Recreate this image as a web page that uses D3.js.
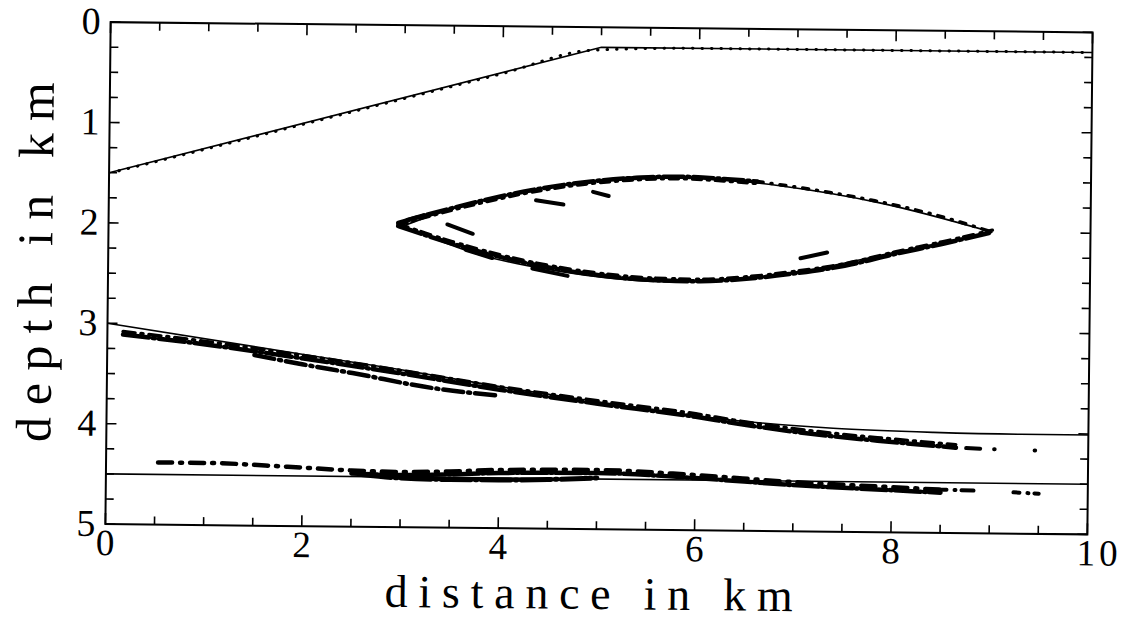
<!DOCTYPE html>
<html>
<head>
<meta charset="utf-8">
<script src="https://cdn.jsdelivr.net/npm/d3@7"></script>
<style>
  body { margin: 0; background: #fff; }
  svg { display: block; }
  text { font-family: "Liberation Serif", "DejaVu Serif", serif; fill: #000; }
</style>
</head>
<body>
<svg id="chart" width="1127" height="621"></svg>
<script>
'use strict';

// tick labels
const xLabels = [0, 2, 4, 6, 8, 10];
const yLabels = [0, 1, 2, 3, 4, 5];

// true model interfaces (distance km, depth km)
const iface1 = [[0, 1.5], [5, 0.2], [10, 0.2]];
const lensTop = [[3, 2.0], [3.44, 1.84], [4.0, 1.69], [4.8, 1.55], [5.5, 1.48], [6.2, 1.5], [6.83, 1.56], [7.85, 1.72], [9, 2.0]];
const lensBot = [[3, 2.0], [3.79, 2.28], [4.5, 2.42], [5.14, 2.5], [5.69, 2.53], [6.3, 2.5], [7.05, 2.41], [8.06, 2.2], [9, 2.0]];
const iface3 = [[0, 3.0], [2, 3.29], [2.98, 3.43], [4.0, 3.59], [5.0, 3.73], [6.38, 3.9], [7.4, 3.97], [8.42, 4.0], [9.31, 4.01], [10, 4.01]];
const iface4 = [[0, 4.5], [10, 4.5]];

// inverted reflector segments
const inv1 = [[0.1, 1.48], [1, 1.25], [2, 0.99], [3, 0.73], [4, 0.47], [4.9, 0.23], [6, 0.2], [7, 0.2], [8, 0.2], [9, 0.2], [9.9, 0.2]];
const invLensTop = [[2.95, 1.97], [3.3, 1.87], [3.8, 1.74], [4.3, 1.63], [4.8, 1.55], [5.3, 1.5], [5.8, 1.48], [6.3, 1.5], [6.6, 1.52]];
const invLensTopR = [[6.6, 1.52], [7.2, 1.6], [7.8, 1.7], [8.4, 1.83], [9, 2.0]];
const invLensBot = [[2.95, 2.0], [3.5, 2.17], [4, 2.3], [4.5, 2.4], [5, 2.47], [5.5, 2.51], [6, 2.52], [6.5, 2.49], [7, 2.43], [7.5, 2.35], [8, 2.23], [8.5, 2.12], [9, 2.0]];
const invLensBits = [
  [[3.45, 1.98], [3.71, 2.07]],
  [[3.64, 2.23], [3.91, 2.31]],
  [[4.32, 2.41], [4.68, 2.48]],
  [[4.35, 1.73], [4.63, 1.77]],
  [[4.93, 1.64], [5.09, 1.68]],
  [[3.04, 1.94], [3.21, 1.89]],
  [[7.05, 2.28], [7.32, 2.22]]
];
const inv3 = [[0.16, 3.11], [1, 3.2], [2, 3.33], [3, 3.47], [4, 3.62], [5, 3.75], [6, 3.87], [6.4, 3.93], [7.4, 4.05], [8.0, 4.1], [8.65, 4.15]];
const inv3Tail = [[8.65, 4.15], [9.0, 4.16], [9.52, 4.17]];
const inv3Low = [[1.5, 3.3], [2, 3.39], [2.5, 3.47], [3.31, 3.61], [4.0, 3.68]];
const inv4 = [[0.53, 4.38], [1, 4.38], [1.85, 4.41], [2.5, 4.44], [3, 4.45], [3.5, 4.44], [4, 4.42], [5, 4.41], [6, 4.45], [7, 4.51], [8, 4.55], [8.5, 4.57]];
const inv4Tail = [[8.5, 4.57], [9.0, 4.58], [9.5, 4.6]];
const inv4Low = [[2.6, 4.48], [3, 4.51], [3.5, 4.52], [4, 4.52], [4.5, 4.51], [5, 4.49]];

const svg = d3.select('#chart');
const pLeft = 108, pRight = 1090, pTop = 27.25, pBottom = 529.25;
const g = svg.append('g').attr('transform', 'rotate(0.6, 599, 278)');

const x = d3.scaleLinear().domain([0, 10]).range([pLeft, pRight]);
const y = d3.scaleLinear().domain([0, 5]).range([pTop, pBottom]);

const line = d3.line().x((d) => x(d[0])).y((d) => y(d[1]));
const smooth = d3.line().x((d) => x(d[0])).y((d) => y(d[1])).curve(d3.curveMonotoneX);

// frame
g.append('rect')
    .attr('x', pLeft).attr('y', pTop)
    .attr('width', pRight - pLeft).attr('height', pBottom - pTop)
    .attr('fill', 'none').attr('stroke', '#000').attr('stroke-width', 2);

// ticks (inward, all four sides)
const xt = d3.range(0, 10.01, 0.5);
const yt = d3.range(0, 5.01, 0.25);
xt.forEach(function (t) {
    const major = Math.abs(t / 2 - Math.round(t / 2)) < 1e-6;
    const len = major ? 11 : 8;
    g.append('line').attr('x1', x(t)).attr('x2', x(t)).attr('y1', pBottom).attr('y2', pBottom - len)
        .attr('stroke', '#000').attr('stroke-width', 1.6);
    g.append('line').attr('x1', x(t)).attr('x2', x(t)).attr('y1', pTop).attr('y2', pTop + len)
        .attr('stroke', '#000').attr('stroke-width', 1.6);
});
yt.forEach(function (t) {
    const major = Math.abs(t - Math.round(t)) < 1e-6;
    const len = major ? 10 : 8;
    g.append('line').attr('y1', y(t)).attr('y2', y(t)).attr('x1', pLeft).attr('x2', pLeft + len)
        .attr('stroke', '#000').attr('stroke-width', 1.6);
    g.append('line').attr('y1', y(t)).attr('y2', y(t)).attr('x1', pRight).attr('x2', pRight - len)
        .attr('stroke', '#000').attr('stroke-width', 1.6);
});

// tick labels
g.selectAll('text.xl').data(xLabels).enter().append('text')
    .attr('class', 'xl')
    .attr('x', (d) => x(d) + (d === 10 ? 12 : 0))
    .attr('y', pBottom + 31)
    .attr('text-anchor', 'middle')
    .attr('font-size', 37)
    .attr('letter-spacing', (d) => d === 10 ? 4 : 0)
    .text((d) => d);

g.selectAll('text.yl').data(yLabels).enter().append('text')
    .attr('class', 'yl')
    .attr('x', pLeft - 10)
    .attr('y', (d) => y(d) + 12)
    .attr('text-anchor', 'end')
    .attr('font-size', 38)
    .text((d) => d);

// axis titles
g.append('text')
    .attr('x', 388).attr('y', 609)
    .attr('font-size', 46)
    .attr('textLength', 408).attr('lengthAdjust', 'spacing')
    .text('distance in km');

g.append('text')
    .attr('transform', 'translate(52, 448) rotate(-90)')
    .attr('font-size', 50)
    .attr('textLength', 360).attr('lengthAdjust', 'spacing')
    .text('depth in km');

// true interfaces
function solid(data, curve) {
    g.append('path').datum(data)
        .attr('d', curve ? smooth : line)
        .attr('fill', 'none').attr('stroke', '#000').attr('stroke-width', 1.6);
}
solid(iface1, false);
solid(lensTop, true);
solid(lensBot, true);
solid(iface3, true);
solid(iface4, false);

// inverted reflectors (dash-dot)
function inv(data, w, dash) {
    g.append('path').datum(data)
        .attr('d', smooth)
        .attr('fill', 'none').attr('stroke', '#000')
        .attr('stroke-width', w)
        .attr('stroke-dasharray', dash)
        .attr('stroke-linecap', 'round');
}
inv(inv1, 3, '0.5,9');
inv(invLensTop, 4.5, '20,4,2,4');
inv(invLensTop.map((d) => [d[0], d[1] + 0.02]), 3.5, '9,6,2,6');
inv(invLensTopR, 3.5, '6,8,1,8');
inv(invLensBot, 4.5, '24,4,2,4');
inv(invLensBot.map((d) => [d[0], d[1] - 0.02]), 3.5, '10,7,2,5');
invLensBits.forEach((d) => inv(d, 4, 'none'));
inv(inv3, 4.5, '26,4,2,4');
inv(inv3.map((d) => [d[0], d[1] - 0.03]), 3.5, '12,6,2,6');
inv(inv3Tail, 4, '0.5,10,14,14,0.5,40');
inv(inv3Low, 4.5, '20,5,2,5');
inv(inv4, 4.5, '14,8,2,8');
inv(inv4.filter((d) => d[0] >= 2.5).map((d) => [d[0], d[1] + 0.03]), 4.5, '26,3,2,3');
inv(inv4Tail, 4, '6,8,1,6,12,40');
inv(inv4Low, 5, '30,4,2,4');
</script>
</body>
</html>
